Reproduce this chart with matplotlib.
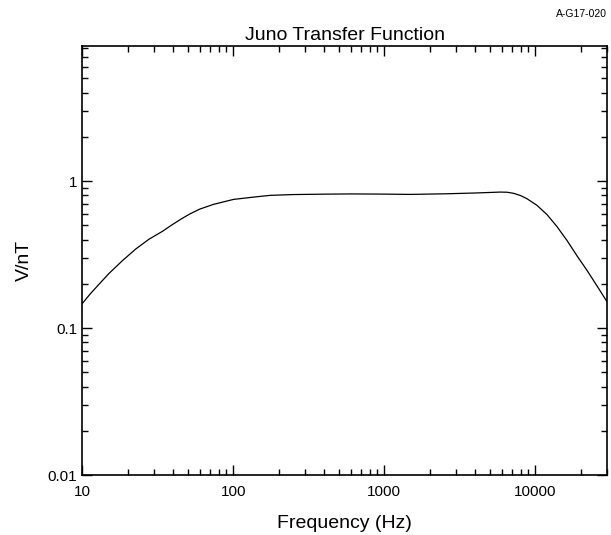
import matplotlib
matplotlib.use("Agg")
import matplotlib.pyplot as plt
from matplotlib.ticker import LogLocator, NullFormatter, FixedLocator, FixedFormatter

plt.rcParams['font.family'] = ['Liberation Sans', 'DejaVu Sans']

# transfer function (Hz, V/nT)
freq = [10, 11.35, 12.57, 15.0, 18.4, 22.5, 27.6, 33.9, 39.5, 45.9, 51.9,
        60, 74.1, 100.5, 143.5, 176, 250, 396, 600, 942, 1500, 2600, 4000,
        5860, 6500, 7180, 8000, 8810, 10260, 11950, 13930, 16230, 18900, 22000,
        25600, 30500]
gain = [0.147, 0.172, 0.193, 0.235, 0.287, 0.344, 0.402, 0.455, 0.506, 0.558, 0.600,
        0.645, 0.695, 0.751, 0.783, 0.800, 0.810, 0.815, 0.818, 0.816, 0.812, 0.820, 0.830,
        0.842, 0.840, 0.826, 0.797, 0.759, 0.684, 0.592, 0.490, 0.394, 0.310, 0.247,
        0.194, 0.146]

xticks = [10, 100, 1000, 10000]
xlabels = ['10', '100', '1000', '10000']
yticks = [0.01, 0.1, 1]
ylabels = ['0.01', '0.1', '1']

fig = plt.figure(figsize=(6.11, 5.35), dpi=100)
ax = fig.add_axes([0.1347, 0.112, 0.8593, 0.802])

ax.plot(freq, gain, color='black', linewidth=0.9)
ax.set_xscale('log')
ax.set_yscale('log')
ax.set_xlim(10, 30000)
ax.set_ylim(0.01, 8.3)

ax.xaxis.set_major_locator(FixedLocator(xticks))
ax.xaxis.set_major_formatter(FixedFormatter(xlabels))
ax.yaxis.set_major_locator(FixedLocator(yticks))
ax.yaxis.set_major_formatter(FixedFormatter(ylabels))
ax.xaxis.set_minor_locator(LogLocator(base=10, subs=range(2, 10), numticks=20))
ax.yaxis.set_minor_locator(LogLocator(base=10, subs=range(2, 10), numticks=20))
ax.xaxis.set_minor_formatter(NullFormatter())
ax.yaxis.set_minor_formatter(NullFormatter())

ax.tick_params(which='both', direction='in', top=True, right=True, labelsize=11, width=1.0)
ax.tick_params(which='major', length=7.5)
ax.tick_params(which='minor', length=4)
ax.tick_params(axis='x', pad=7)
for s in ax.spines.values():
    s.set_linewidth(1.2)

ax.set_title('Juno Transfer Function', fontsize=14, pad=4)
ax.set_xlabel('Frequency (Hz)', fontsize=14, labelpad=12)
ax.set_ylabel('V/nT', fontsize=14, labelpad=11)

fig.text(0.993, 0.974, 'A-G17-020', fontsize=7.5, ha='right', va='center')

fig.savefig('out.png', dpi=100)
